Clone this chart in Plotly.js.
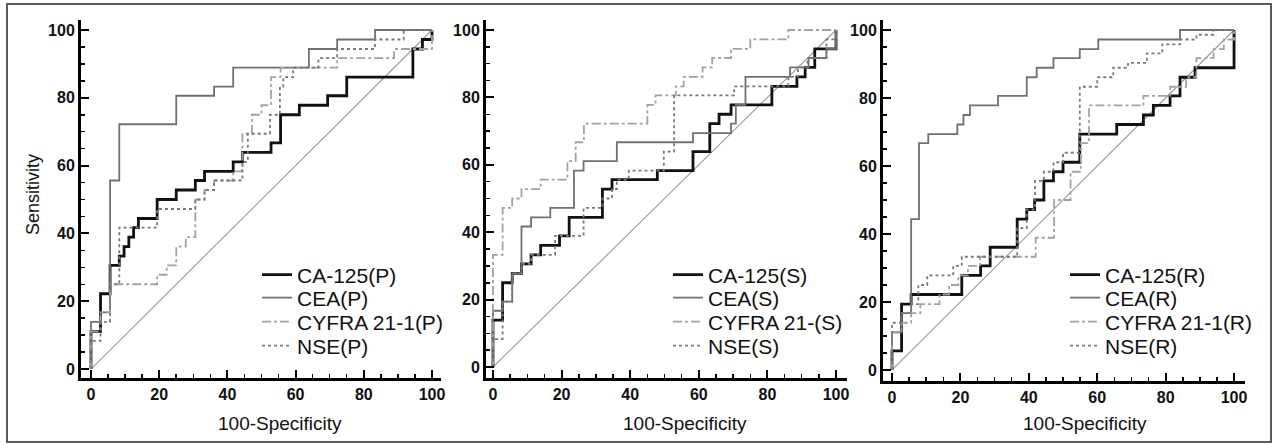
<!DOCTYPE html>
<html>
<head>
<meta charset="utf-8">
<script src="https://cdn.plot.ly/plotly-3.0.1.min.js"></script>
<style>
html,body{margin:0;padding:0;background:#fff;}
#chart{width:1274px;height:445px;}
</style>
</head>
<body>
<div id="chart"></div>
<script>
// ---------- Panel P ----------
const ca125P_x = [0,0,2.8,5.6,8.3,9.7,11.1,12.5,13.9,19.4,25,30.6,33.3,41.7,44.4,52.8,55.6,61.1,69.4,75,94.4,97.2,100];
const ca125P_y = [0,11.1,22.2,30.6,33.3,36.1,38.9,41.7,44.4,50,52.8,55.6,58.3,61.1,63.9,66.7,75,77.8,80.6,86.1,94.4,97.2,100];
const ceaP_x = [0,0,2.8,5.6,8.3,25,36.1,41.7,63.9,72.2,83.3,100];
const ceaP_y = [0,13.9,16.7,55.6,72.2,80.6,83.3,88.9,94.4,97.2,100,100];
const cyfraP_x = [0,0,2.8,5.6,19.4,22.2,25,27.8,30.6,33.3,36.1,41.7,44.4,47.2,50,52.8,55.6,72.2,88.9,100];
const cyfraP_y = [0,11.1,16.7,25,27.8,30.6,36.1,38.9,50,52.8,55.6,58.3,69.4,75,77.8,86.1,88.9,91.7,94.4,100];
const nseP_x = [0,0,2.8,5.6,8.3,19.4,30.6,33.3,36.1,44.4,46,52.5,55.4,56.4,59.3,66.7,72.2,83.3,91.7,100];
const nseP_y = [0,8.3,13.9,25,41.7,47.2,50,52.8,55.6,61.1,69.4,75,83.3,86.1,88.9,91.7,94.4,97.2,100,100];

// ---------- Panel S ----------
const ca125S_x = [0,0,2.8,5.6,8.3,11.1,13.9,19.4,22.2,31.9,34.7,47.9,58.3,63.2,65.9,69.4,81.3,88.6,91,93.8,100];
const ca125S_y = [0,13.9,25,27.8,30.6,33.3,36.1,38.9,44.4,52.8,55.6,58.3,63.9,72.2,75,77.8,83.3,86.1,88.9,94.4,100];
const ceaS_x = [0,0,2.8,5.6,8.3,11.1,16.7,23.6,26.4,36.1,58.3,69.4,70.8,73.6,86.6,92,97.2,100];
const ceaS_y = [0,16.7,19.4,27.8,41.7,44.4,47.2,58.3,61.1,66.7,69.4,72.2,77.8,86.1,88.9,91.7,94.4,100];
const cyfraS_x = [0,0,2.8,5.6,8.3,13.9,21.7,24.1,26.5,45,47.4,53.3,55.6,61.1,63.9,69.4,75,86.1,100];
const cyfraS_y = [0,33.3,47.2,50,52.8,55.6,61.1,66.7,72.2,77.8,80.6,83.3,86.1,88.9,91.7,94.4,97.2,100,100];
const nseS_x = [0,0,2.8,5.6,8.3,11.1,18.1,26.4,31.9,34.7,36.1,39.6,49.8,52.8,70.3,86.1,88.9,91.7,97.2,100];
const nseS_y = [0,8.3,19.4,27.8,30.6,33.3,38.9,47.2,50,52.8,55.6,58.3,63.9,80.6,83.3,86.1,88.9,91.7,97.2,100];

// ---------- Panel R ----------
const ca125R_x = [0,0,2.8,5.6,20.4,25.9,28.7,36.6,39.4,41.7,44.4,47.2,50,54.9,65.7,73.5,76.4,81.3,84.2,88.6,100];
const ca125R_y = [0,5.6,19.4,22.2,27.8,30.6,36.1,44.4,47.2,50,55.6,58.3,61.1,69.4,72.2,75,77.8,80.6,86.1,88.9,100];
const ceaR_x = [0,0,2.8,5.6,7.9,10.6,19.1,20.9,22.8,31,39.4,42.3,47.2,54.9,60.3,84.2,100];
const ceaR_y = [0,11.1,16.7,44.4,66.7,69.4,72.2,75,77.8,80.6,86.1,88.9,91.7,94.4,97.2,100,100];
const cyfraR_x = [0,0,2.8,5.6,8.3,13.9,16.7,19.4,22.2,25.7,42,47.4,52.2,55.2,57.6,73.5,81.3,86,89,94,97,100];
const cyfraR_y = [0,11.1,13.9,16.7,19.4,22.2,25,27.8,30.6,33.3,38.9,50,58.3,66.7,77.8,80.6,83.3,86.1,91.7,94.4,97.2,100];
const nseR_x = [0,0,2.8,5.6,7.7,10.3,17.9,20.4,36.6,39.4,41.8,44.4,47.2,50,54.9,60,64.7,69,74.5,79,84.2,89,94,100];
const nseR_y = [0,13.9,16.7,19.4,25,27.8,30.6,33.3,41.7,47.2,55.6,58.3,61.1,63.9,83.3,86.1,88.9,90.3,93.1,95.8,97.2,98.6,100,100];

const diagonal = [0,100];
const namesP = ['CA-125(P)','CEA(P)','CYFRA 21-1(P)','NSE(P)'];
const namesS = ['CA-125(S)','CEA(S)','CYFRA 21-(S)','NSE(S)'];
const namesR = ['CA-125(R)','CEA(R)','CYFRA 21-1(R)','NSE(R)'];
const xTitle = '100-Specificity';
const yTitle = 'Sensitivity';

const FONT = 'Liberation Sans, Arial, sans-serif';
const styles = [
  {color:'#111111', width:2.8, dash:'solid'},
  {color:'#707070', width:1.8, dash:'solid'},
  {color:'#a2a2a2', width:1.8, dash:'dashdot'},
  {color:'#7a7a7a', width:1.8, dash:'dot'}
];

const W = 1274, H = 445;
function px(v){return v/W;}
function py(v){return (H-v)/H;}

const panels = [
  {xa:'x',  ya:'y',  names:namesP, xs:[ca125P_x,ceaP_x,cyfraP_x,nseP_x], ys:[ca125P_y,ceaP_y,cyfraP_y,nseP_y], lgx:257},
  {xa:'x2', ya:'y2', names:namesS, xs:[ca125S_x,ceaS_x,cyfraS_x,nseS_x], ys:[ca125S_y,ceaS_y,cyfraS_y,nseS_y], lgx:668},
  {xa:'x3', ya:'y3', names:namesR, xs:[ca125R_x,ceaR_x,cyfraR_x,nseR_x], ys:[ca125R_y,ceaR_y,cyfraR_y,nseR_y], lgx:1065}
];
const legendRows = [275, 298, 322, 346];

const traces = [];
const legends = {};
panels.forEach((p, pi) => {
  traces.push({x:diagonal, y:diagonal, xaxis:p.xa, yaxis:p.ya, mode:'lines',
    line:{color:'#9a9a9a', width:1.1}, showlegend:false, hoverinfo:'skip'});
  for (let i=0;i<4;i++){
    const n = pi*4 + i + 1;
    const key = n === 1 ? 'legend' : 'legend' + n;
    traces.push({x:p.xs[i], y:p.ys[i], xaxis:p.xa, yaxis:p.ya, mode:'lines',
      line:{color:styles[i].color, width:styles[i].width, dash:styles[i].dash, shape:'hv'},
      name:p.names[i], legend:key});
    legends[key] = {x:px(p.lgx), y:py(legendRows[i]), xanchor:'left', yanchor:'middle',
      font:{family:FONT, size:21, color:'#111'}, bgcolor:'rgba(0,0,0,0)', borderwidth:0};
  }
});

function axis(dom, rng, anchor){
  return {domain:dom, range:rng, anchor:anchor, showgrid:false, zeroline:false, showline:true,
    linecolor:'#000', linewidth:3, ticks:'inside', ticklen:8, tickwidth:2, tickcolor:'#000',
    tick0:0, dtick:20, tickfont:{family:FONT, size:16, color:'#111', weight:'bold'},
    minor:{dtick:5, ticks:'inside', ticklen:4, tickwidth:1.5, tickcolor:'#000', showgrid:false},
    fixedrange:true};
}

const layout = Object.assign({
  width:W, height:H, margin:{l:0,r:0,t:0,b:0}, paper_bgcolor:'#fff', plot_bgcolor:'#fff',
  xaxis:  axis([px(81), px(440.5)], [-2.93, 102.5], 'y'),
  yaxis:  axis([py(378), py(20)], [-2.65, 102.95], 'x'),
  xaxis2: axis([px(486), px(847)], [-2.04, 103.2], 'y2'),
  yaxis2: axis([py(378), py(20)], [-3.26, 102.97], 'x2'),
  xaxis3: axis([px(883), px(1245)], [-2.63, 103.2], 'y3'),
  yaxis3: axis([py(381), py(20)], [-3.24, 102.94], 'x3'),
  shapes:[{type:'rect', xref:'paper', yref:'paper', x0:px(7), x1:px(1271), y0:py(442), y1:py(4),
    line:{color:'#5a5a5a', width:2}, fillcolor:'rgba(0,0,0,0)', layer:'below'}],
  annotations:[
    {text:xTitle, xref:'paper', yref:'paper', x:px(280), y:py(423), showarrow:false, xanchor:'center', yanchor:'middle',
     font:{family:FONT, size:19, color:'#111'}},
    {text:xTitle, xref:'paper', yref:'paper', x:px(685), y:py(423), showarrow:false, xanchor:'center', yanchor:'middle',
     font:{family:FONT, size:19, color:'#111'}},
    {text:xTitle, xref:'paper', yref:'paper', x:px(1085), y:py(423), showarrow:false, xanchor:'center', yanchor:'middle',
     font:{family:FONT, size:19, color:'#111'}},
    {text:yTitle, xref:'paper', yref:'paper', x:px(33), y:py(195), showarrow:false, xanchor:'center', yanchor:'middle',
     textangle:-90, font:{family:FONT, size:18, color:'#111'}}
  ],
  showlegend:true
}, legends);

Plotly.newPlot('chart', traces, layout, {staticPlot:true, displayModeBar:false});
</script>
</body>
</html>
